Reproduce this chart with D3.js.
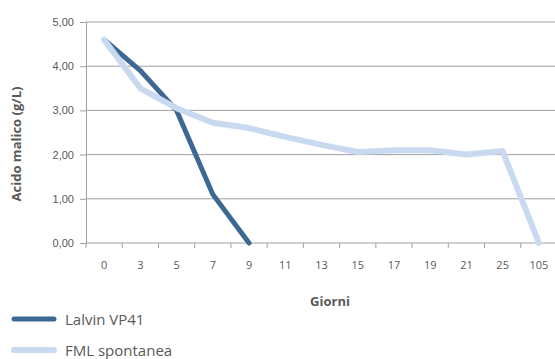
<!DOCTYPE html>
<html>
<head>
<meta charset="utf-8">
<script src="https://cdn.jsdelivr.net/npm/d3@7"></script>
<style>
  body { margin: 0; background: #fff; }
  svg { display: block; font-family: "Open Sans", sans-serif; }
  .axis text { fill: #595959; font-size: 11px; }
  .axis path, .axis line { stroke: #a0a0a0; }
  .grid line { stroke: #a0a0a0; }
  .axis-label { fill: #595959; font-size: 13px; font-weight: bold; }
  .legend text { fill: #595959; font-size: 15px; }
</style>
</head>
<body>
<svg id="chart" width="555" height="359"></svg>
<script>
/* data */
const days = ["0", "3", "5", "7", "9", "11", "13", "15", "17", "19", "21", "25", "105"];
const lalvin = [4.6, 3.9, 3.0, 1.1, 0.0];
const fml = [4.6, 3.5, 3.05, 2.72, 2.6, 2.4, 2.22, 2.06, 2.1, 2.1, 2.0, 2.08, 0.0];
const yTicks = [0, 1, 2, 3, 4, 5];

const seriesList = [
  { name: "Lalvin VP41", values: lalvin, color: "#3d6894", width: 5 },
  { name: "FML spontanea", values: fml, color: "#c9daf0", width: 6 }
];

const svg = d3.select("#chart");
const plotL = 86, plotR = 557, plotT = 22, plotB = 243;

const x = d3.scaleBand().domain(days).range([plotL, plotR]);
const y = d3.scaleLinear().domain([0, 5]).range([plotB, plotT]);

/* gridlines */
svg.append("g").attr("class", "grid")
  .selectAll("line").data(yTicks.filter(d => d > 0)).join("line")
  .attr("x1", plotL).attr("x2", plotR)
  .attr("y1", d => y(d)).attr("y2", d => y(d));

const fmt = d => d3.format(".2f")(d).replace(".", ",");

const yAxis = d3.axisLeft(y).tickValues(yTicks).tickFormat(fmt).tickSize(6).tickPadding(6).tickSizeOuter(0);
svg.append("g").attr("class", "axis y-axis")
  .attr("transform", `translate(${plotL},0)`).call(yAxis)
  .call(g => g.selectAll("text").attr("font-family", null).attr("font-size", null));

/* x axis: ticks at band boundaries, labels at band centres */
const xg = svg.append("g").attr("class", "axis x-axis");
xg.append("line").attr("x1", plotL).attr("x2", plotR).attr("y1", plotB).attr("y2", plotB);
xg.selectAll("line.tick").data(days).join("line").attr("class", "tick")
  .attr("x1", d => x(d)).attr("x2", d => x(d))
  .attr("y1", plotB).attr("y2", plotB + 5);
xg.selectAll("text").data(days).join("text")
  .attr("x", d => x(d) + x.bandwidth() / 2).attr("y", plotB + 26)
  .attr("text-anchor", "middle").text(d => d);

/* axis titles */
svg.append("text").attr("class", "axis-label")
  .attr("x", 330).attr("y", 306).attr("text-anchor", "middle").text("Giorni");
svg.append("text").attr("class", "axis-label")
  .attr("transform", "rotate(-90)").attr("x", -144).attr("y", 21)
  .attr("text-anchor", "middle").text("Acido malico (g/L)");

/* lines (second series drawn on top) */
const line = d3.line()
  .x((d, i) => x(days[i]) + x.bandwidth() / 2)
  .y(d => y(d));

svg.append("g").selectAll("path").data(seriesList).join("path")
  .attr("fill", "none")
  .attr("stroke", d => d.color)
  .attr("stroke-width", d => d.width)
  .attr("stroke-linecap", "round")
  .attr("stroke-linejoin", "round")
  .attr("d", d => line(d.values));

/* legend */
const legend = svg.append("g").attr("class", "legend");
const items = legend.selectAll("g").data(seriesList).join("g")
  .attr("transform", (d, i) => `translate(0,${319 + i * 31})`);
items.append("line")
  .attr("x1", 14).attr("x2", 54)
  .attr("stroke", d => d.color).attr("stroke-width", d => d.width)
  .attr("stroke-linecap", "round");
items.append("text").attr("x", 65).attr("y", 6).text(d => d.name);
</script>
</body>
</html>
